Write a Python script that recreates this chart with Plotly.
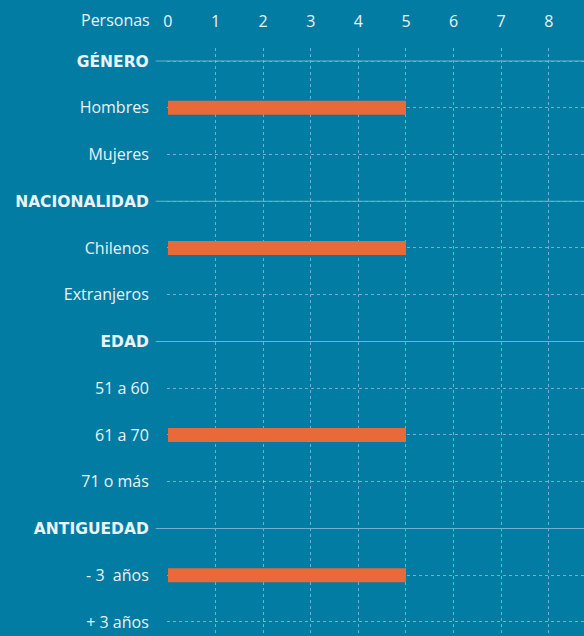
import plotly.graph_objects as go

categories = ["GÉNERO", "Hombres", "Mujeres", "NACIONALIDAD", "Chilenos", "Extranjeros",
              "EDAD", "51 a 60", "61 a 70", "71 o más", "ANTIGUEDAD", "- 3\u00a0 años", "+ 3 años"]
is_header = [True, False, False, True, False, False, True, False, False, False, True, False, False]
values = [None, 5, 0, None, 5, 0, None, 0, 5, 0, None, 5, 0]
x_ticks = [0, 1, 2, 3, 4, 5, 6, 7, 8]
axis_title = "Personas"

BG = "#037ca3"
BAR = "#e96a39"
TXT = "#eaf3f7"
GRID = "rgba(190,225,240,0.55)"
HEADER_LINE = "#6cb2cf"

rows = list(range(len(categories)))
ticktext = []
for c, h in zip(categories, is_header):
    if h:
        ticktext.append("<span style='font-family:\"DejaVu Sans\";font-weight:bold;font-size:15.5px'>%s</span>" % c)
    else:
        ticktext.append(c)

fig = go.Figure()
fig.add_trace(go.Bar(
    x=values, y=rows, orientation="h", width=0.3,
    marker=dict(color=BAR, line=dict(width=0)),
    hoverinfo="skip",
))

for r, h in zip(rows, is_header):
    if h:
        fig.add_shape(type="line", xref="paper", yref="y", x0=-0.027, x1=1, y0=r, y1=r,
                      line=dict(color=HEADER_LINE, width=1.2), layer="above")

fig.update_layout(
    width=584, height=636,
    margin=dict(l=167, r=0, t=48, b=0),
    paper_bgcolor=BG, plot_bgcolor=BG,
    showlegend=False,
    font=dict(family="Open Sans", size=16, color=TXT),
    xaxis=dict(
        side="top", range=[-0.02, 8.74], tickvals=x_ticks,
        showgrid=True, gridcolor=GRID, griddash="dot", gridwidth=1,
        zeroline=False, showline=False,
        ticks="outside", ticklen=14, tickcolor=BG,
        tickfont=dict(family="Open Sans", size=16, color=TXT),
    ),
    yaxis=dict(
        range=[12.30, -0.278], tickvals=rows, ticktext=ticktext,
        showgrid=True, gridcolor=GRID, griddash="dot", gridwidth=1,
        zeroline=False, showline=False,
        ticks="outside", ticklen=14, tickcolor=BG,
        tickfont=dict(family="Open Sans", size=16, color=TXT),
    ),
    annotations=[dict(
        text=axis_title, xref="paper", yref="paper", x=-0.035, y=1, yshift=28,
        xanchor="right", yanchor="middle", showarrow=False,
        font=dict(family="Open Sans", size=16, color=TXT),
    )],
)

fig.write_html("out.html", config={"displayModeBar": False},
               post_script="document.body.style.margin='0';document.body.style.padding='0';")
